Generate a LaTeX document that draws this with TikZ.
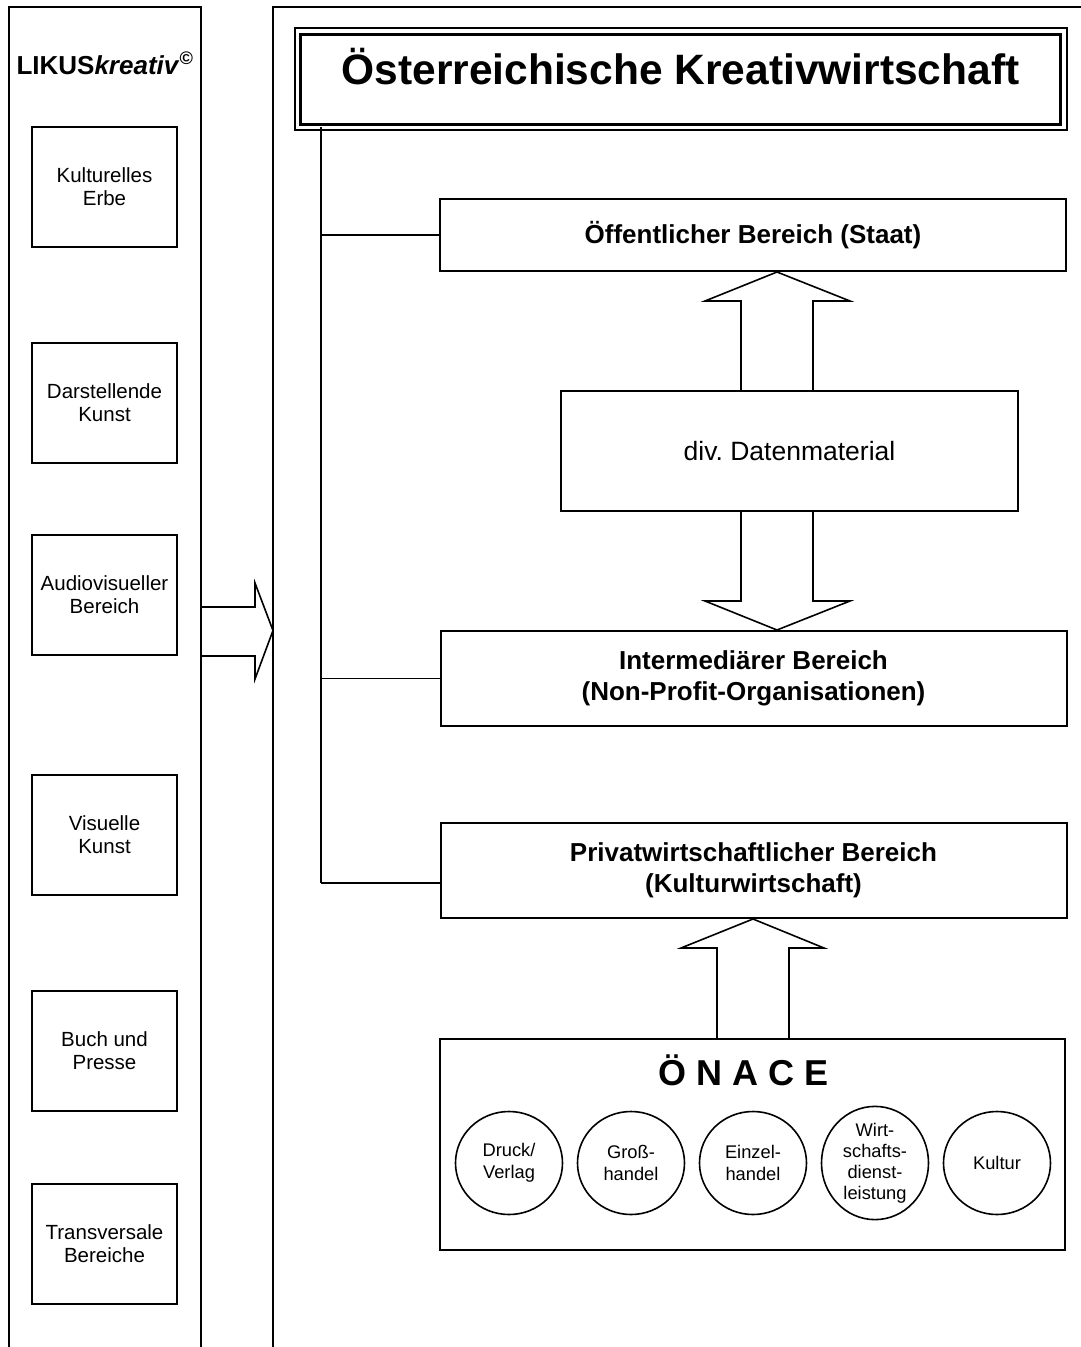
\documentclass[tikz,border=0pt]{standalone}
\usepackage{fontspec}
\setmainfont{Liberation Sans}
\usetikzlibrary{shapes.geometric}
\frenchspacing
\begin{document}
\begin{tikzpicture}[x=1pt,y=-1pt,
  frame/.style={line width=2.5pt},
  box/.style={draw, line width=2pt, rectangle, inner sep=0pt, align=center},
  lbox/.style={box, minimum width=145pt, minimum height=120pt, font=\fontsize{20.5}{23}\selectfont},
  rbox/.style={box, minimum width=626pt, font=\fontsize{26}{31}\selectfont\bfseries},
  conn/.style={line width=1.5pt},
  blockarrow/.style={draw, line width=1.6pt, line join=miter},
  oval/.style={draw, ellipse, line width=1.6pt, minimum width=107pt, minimum height=103pt, inner sep=0pt, align=center, font=\fontsize{18.3}{21.5}\selectfont}
]
\useasboundingbox (0,0) rectangle (1080,1347);

% frames
\draw[frame] (9,1352) -- (9,7) -- (201,7) -- (201,1352);
\draw[frame] (273,1352) -- (273,7) -- (1085,7);

% title
\node[draw, line width=2pt, minimum width=772.5pt, minimum height=102pt, inner sep=0pt] (titleout) at (680.75,79) {};
\node[draw, line width=3pt, minimum width=760.5pt, minimum height=90pt, inner sep=0pt] (titlein) at (680.25,79) {};
\node[anchor=base, inner sep=0pt, font=\fontsize{42.5}{50}\selectfont\bfseries] (titletext) at (680.5,84) {Österreichische Kreativwirtschaft};

% LIKUS column
\node[anchor=base, inner sep=0pt, font=\fontsize{26}{30}\selectfont\bfseries] (likus) at (105,74) {LIKUS\textit{kreativ}\textsuperscript{©}};
\node[lbox] (l1) at (104.5,187) {Kulturelles\\Erbe};
\node[lbox] (l2) at (104.5,403) {Darstellende\\Kunst};
\node[lbox] (l3) at (104.5,595) {Audiovisueller\\Bereich};
\node[lbox] (l4) at (104.5,835) {Visuelle\\Kunst};
\node[lbox] (l5) at (104.5,1051) {Buch und\\Presse};
\node[lbox] (l6) at (104.5,1243.5) {Transversale\\Bereiche};

% right boxes
\node[rbox, minimum height=72pt] (b1) at (753,235) {Öffentlicher Bereich (Staat)};
\node[box, minimum width=457pt, minimum height=120pt, font=\fontsize{26.5}{31}\selectfont] (div) at (789.5,451) {div. Datenmaterial};
\node[rbox, minimum height=95pt] (b2) at (753.5,678.5) {Intermediärer Bereich\\(Non-Profit-Organisationen)};
\node[rbox, minimum height=95pt] (b3) at (753.5,870.5) {Privatwirtschaftlicher Bereich\\(Kulturwirtschaft)};
\node[box, minimum width=625pt, minimum height=211pt] (onace) at (752.5,1144.5) {};
\node[anchor=base, inner sep=0pt, font=\fontsize{36}{40}\selectfont\bfseries] (onacetext) at (744,1085) {Ö N A C E};

% circles
\node[oval] (c1) at (509,1163) {Druck/\\Verlag};
\node[oval] (c2) at (631,1163) {Groß-\\handel};
\node[oval] (c3) at (753,1163) {Einzel-\\handel};
\node[oval, font=\fontsize{18.3}{21}\selectfont] (c4) at (875,1163) {Wirt-\\schafts-\\dienst-\\leistung};
\node[oval] (c5) at (997,1163) {Kultur};

% tree connectors
\coordinate (vtop) at (321,127);
\coordinate (vbot) at (321,883);
\draw[conn] (vtop) -- (vbot);
\draw[conn] (vtop |- b1.west) -- (b1.west);
\draw[conn] (vtop |- b2.west) -- (b2.west);
\draw[conn] (vbot) -- (vbot -| b3.west);

% block arrow LIKUS -> Kreativwirtschaft
\draw[blockarrow] (201,607) -- (255,607) -- (255,583) -- (273,630.5) -- (255,679) -- (255,656) -- (201,656);

% double block arrow
\draw[blockarrow] (div.north -| 741,0) -- (741,301) -- (705,301) -- (b1.south -| 777,0) -- (850,301) -- (813,301) -- (div.north -| 813,0);
\draw[blockarrow] (div.south -| 741,0) -- (741,601) -- (705,601) -- (b2.north -| 777,0) -- (850,601) -- (813,601) -- (div.south -| 813,0);

% block arrow ONACE -> Privatwirtschaft
\draw[blockarrow] (onace.north -| 717,0) -- (717,948) -- (681,948) -- (b3.south -| 753,0) -- (824,948) -- (789,948) -- (onace.north -| 789,0);
\end{tikzpicture}
\end{document}
